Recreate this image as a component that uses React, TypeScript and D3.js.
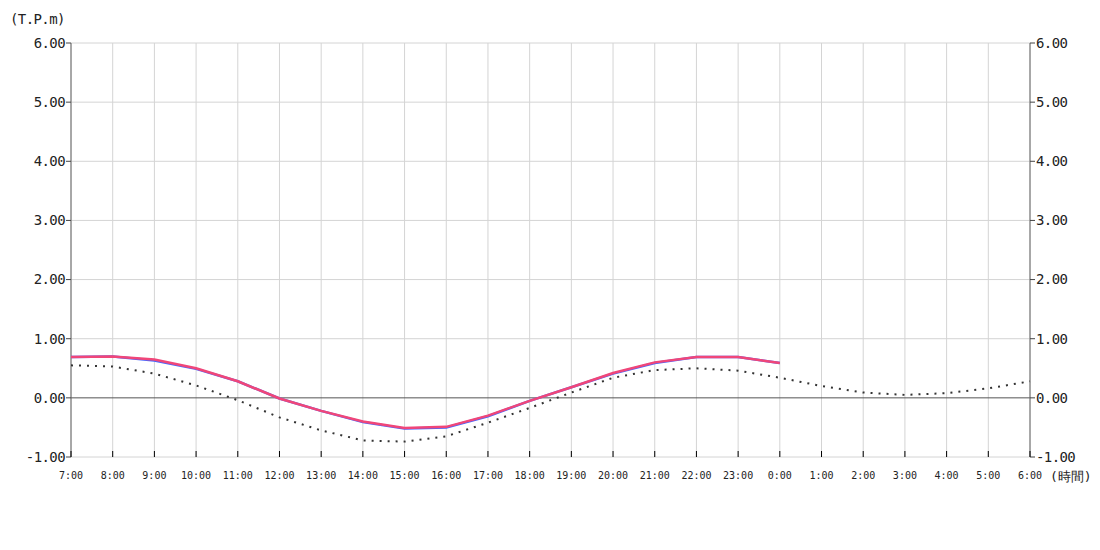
import * as d3 from 'd3'

const hours = ['7:00', '8:00', '9:00', '10:00', '11:00', '12:00', '13:00', '14:00', '15:00', '16:00', '17:00', '18:00',
  '19:00', '20:00', '21:00', '22:00', '23:00', '0:00', '1:00', '2:00', '3:00', '4:00', '5:00', '6:00']

// measured (red) and forecast (blue) levels, until 0:00
const measured = [0.69, 0.7, 0.65, 0.5, 0.28, -0.01, -0.22, -0.4, -0.51, -0.49, -0.3, -0.05, 0.18, 0.42, 0.6, 0.69, 0.69, 0.59]
const observed = [0.69, 0.7, 0.63, 0.49, 0.28, -0.01, -0.22, -0.41, -0.52, -0.5, -0.31, -0.05, 0.18, 0.41, 0.59, 0.69, 0.69, 0.59]
// astronomical tide (dotted), full day
const astro = [0.55, 0.53, 0.41, 0.21, -0.04, -0.33, -0.55, -0.72, -0.74, -0.65, -0.42, -0.17, 0.09, 0.34, 0.47, 0.5, 0.46,
  0.34, 0.2, 0.09, 0.05, 0.08, 0.16, 0.28]

const yTicks = [-1, 0, 1, 2, 3, 4, 5, 6]

const W = 1100
const H = 550
const m = { left: 71, right: 70, top: 43, bottom: 93 }
const font = '"DejaVu Sans Mono", monospace'

export default function App() {
  const x = d3.scalePoint<string>().domain(hours).range([m.left, W - m.right])
  const y = d3.scaleLinear().domain([-1, 6]).range([H - m.bottom, m.top])

  const line = d3.line<number>().x((_, i) => x(hours[i]) as number).y((d) => y(d))

  const x0 = m.left
  const x1 = W - m.right
  const yBottom = y(-1)

  return (
    <svg width={W} height={H} style={{ display: 'block', position: 'absolute', left: 0, top: 0 }}>
      <rect width={W} height={H} fill="#fff" />
      {/* grid */}
      {hours.map((h) => (
        <line key={h} x1={x(h)} x2={x(h)} y1={m.top} y2={yBottom} stroke="#d4d4d4" />
      ))}
      {yTicks.map((t) => (
        <line key={t} x1={x0} x2={x1} y1={y(t)} y2={y(t)} stroke={t === 0 ? '#555' : '#d4d4d4'} />
      ))}
      {/* axes */}
      <line x1={x0} x2={x0} y1={m.top} y2={yBottom} stroke="#666" />
      <line x1={x1} x2={x1} y1={m.top} y2={yBottom} stroke="#666" />
      {yTicks.map((t) => (
        <g key={t} fontFamily={font} fontSize={14} fill="#222" letterSpacing={-0.6}>
          <line x1={x0 - 5} x2={x0} y1={y(t)} y2={y(t)} stroke="#444" />
          <line x1={x1} x2={x1 + 5} y1={y(t)} y2={y(t)} stroke="#444" />
          <text x={x0 - 6} y={y(t)} dy="0.35em" textAnchor="end">{t.toFixed(2)}</text>
          <text x={x1 + 6} y={y(t)} dy="0.35em" textAnchor="start">{t.toFixed(2)}</text>
        </g>
      ))}
      {hours.map((h) => (
        <g key={h}>
          <line x1={x(h)} x2={x(h)} y1={yBottom - 6} y2={yBottom} stroke="#000" />
          <text x={x(h)} y={yBottom + 22} textAnchor="middle" fontFamily={font} fontSize={10} fill="#222">{h}</text>
        </g>
      ))}
      <text x={10} y={24} fontFamily={font} fontSize={14} fill="#222" letterSpacing={-0.6}>(T.P.m)</text>
      <text x={x1 + 20} y={yBottom + 24} fontFamily={font} fontSize={13} fill="#222">(時間)</text>
      {/* series */}
      <path d={line(astro) ?? ''} fill="none" stroke="#333" strokeWidth={2} strokeDasharray="2,6" />
      <path d={line(observed) ?? ''} fill="none" stroke="#4466ff" strokeWidth={2.5} />
      <path d={line(measured) ?? ''} fill="none" stroke="#f04679" strokeWidth={2.5} />
    </svg>
  )
}
